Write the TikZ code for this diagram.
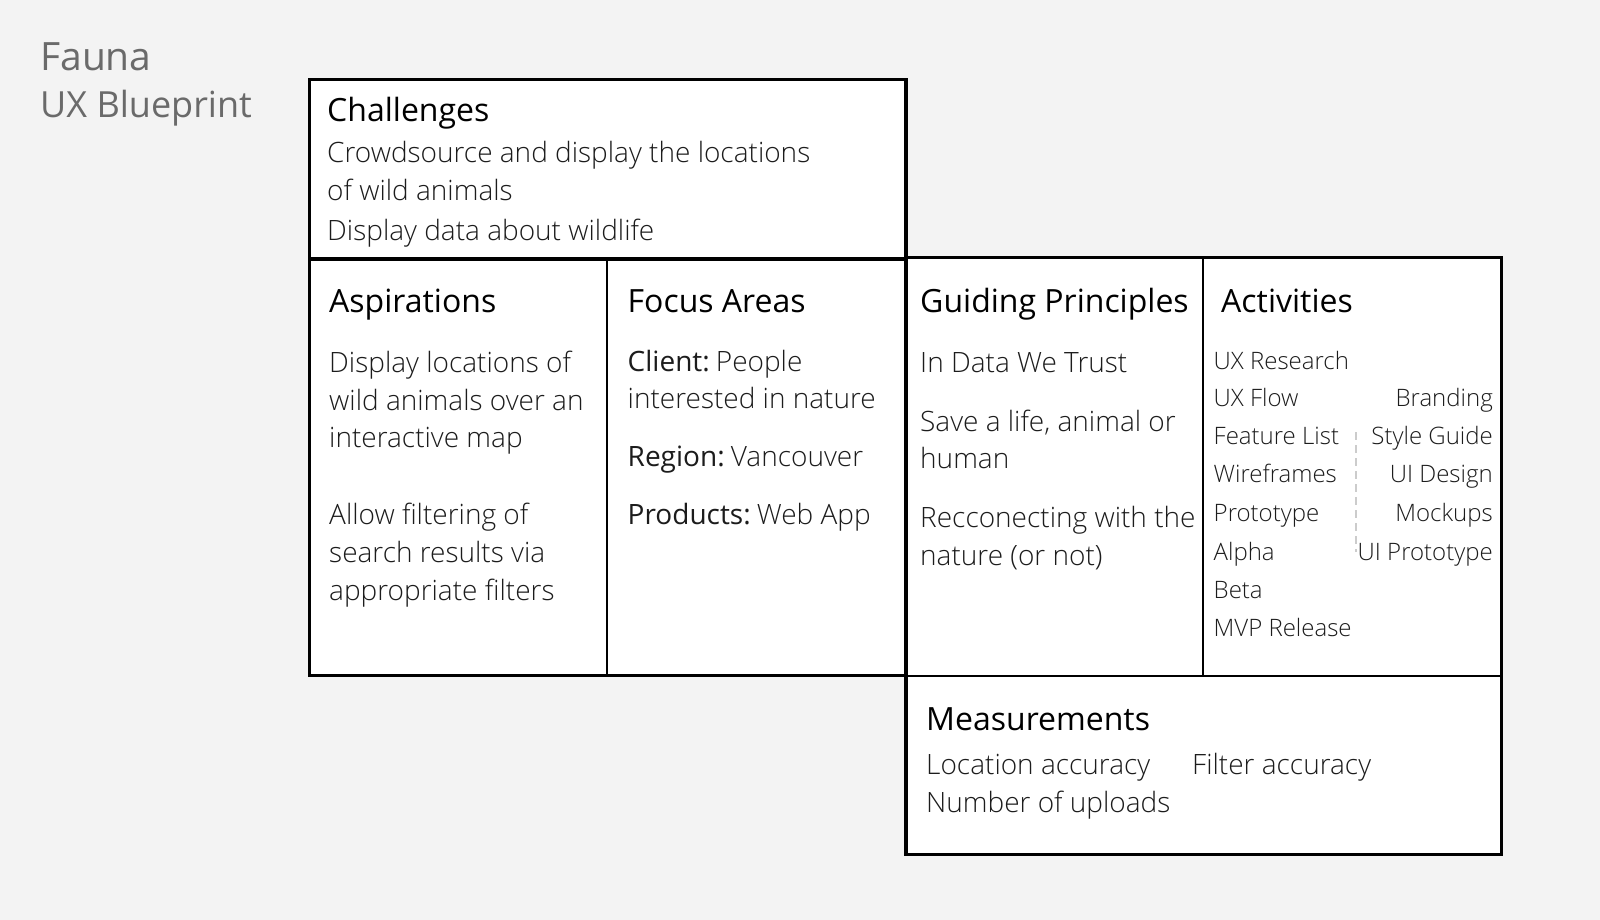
\documentclass[tikz,border=0pt]{standalone}
\usepackage{fontspec}
\setmainfont{Open Sans}
\newfontfamily\lightfont{Open Sans Light}
\definecolor{bg}{HTML}{F3F3F3}
\definecolor{ink}{HTML}{1C1C1C}
\definecolor{titlegray}{HTML}{6A6A6A}
\definecolor{dashgray}{HTML}{CCCCCC}
\begin{document}
\begin{tikzpicture}[x=1pt,y=-1pt,
  frame/.style={draw=black,line width=3.5pt,fill=white},
  rule/.style={draw=black,line width=1.8pt},
  head/.style={anchor=base west,inner sep=0pt,font=\fontsize{32}{38}\selectfont,text=black},
  body/.style={anchor=base west,inner sep=0pt,font=\lightfont\fontsize{28}{38}\selectfont,text=ink},
  item/.style={anchor=base west,inner sep=0pt,font=\lightfont\fontsize{24}{30}\selectfont,text=ink},
  itemr/.style={item,anchor=base east},
  title/.style={anchor=base west,inner sep=0pt,text=titlegray}]

% canvas
\fill[bg] (0,0) rectangle (1600,920);
\useasboundingbox (0,0) rectangle (1600,920);

% title
\node[title,font=\fontsize{39}{44}\selectfont] (fauna) at (40,70.5) {Fauna};
\node[title,font=\fontsize{36}{44}\selectfont] (blueprint) at (40,118) {UX Blueprint};

% left block: aspirations and focus areas
\path[frame] (309.5,259) rectangle (906,675.5);
\draw[rule] (606.7,259) -- (606.7,675.5);

% challenges
\path[frame] (309.5,79.5) rectangle (906,259);

% right block: principles, activities, measurements
\path[frame] (906,257.5) rectangle (1501.5,854.5);
\draw[rule] (1202.6,257.5) -- (1202.6,676);
\draw[rule] (906,676) -- (1501.5,676);

% Challenges
\node[head] (chh) at (327,122) {Challenges};
\node[body] (ch1) at (327,163) {Crowdsource and display the locations};
\node[body] (ch2) at (327,200.5) {of wild animals};
\node[body] (ch3) at (327,240.5) {Display data about wildlife};

% Aspirations
\node[head] (ash) at (329,312.7) {Aspirations};
\node[body] (as1) at (329,372.7) {Display locations of};
\node[body] (as2) at (329,410.3) {wild animals over an};
\node[body] (as3) at (329,447.7) {interactive map};
\node[body] (as4) at (329,524.3) {Allow filtering of};
\node[body] (as5) at (329,562.7) {search results via};
\node[body] (as6) at (329,600.3) {appropriate filters};

% Focus areas
\node[head] (fah) at (627.5,312.7) {Focus Areas};
\node[body] (fa1) at (627.5,371) {{\normalfont Client:}\hspace{0.22em}People};
\node[body] (fa2) at (627.5,408) {interested in nature};
\node[body] (fa3) at (627.5,466) {{\normalfont Region:}\hspace{0.22em}Vancouver};
\node[body] (fa4) at (627.5,524) {{\normalfont Products:}\hspace{0.22em}Web App};

% Guiding principles
\node[head] (gph) at (920,312.7) {Guiding Principles};
\node[body] (gp1) at (920,372.7) {In Data We Trust};
\node[body] (gp2) at (920,431) {Save a life, animal or};
\node[body] (gp3) at (920,468.7) {human};
\node[body] (gp4) at (920,527.7) {Recconecting with the};
\node[body] (gp5) at (920,565.3) {nature (or not)};

% Activities
\node[head] (ach) at (1221,312.7) {Activities};
\node[item] (ac1) at (1213.5,369) {UX Research};
\node[item] (ac2) at (1213.5,406.7) {UX Flow};
\node[item] (ac3) at (1213.5,444.7) {Feature List};
\node[item] (ac4) at (1213.5,482.7) {Wireframes};
\node[item] (ac5) at (1213.5,521.7) {Prototype};
\node[item] (ac6) at (1213.5,560.7) {Alpha};
\node[item] (ac7) at (1213.5,598.7) {Beta};
\node[item] (ac8) at (1213.5,636.7) {MVP Release};
\node[itemr] (ad1) at (1493,406.7) {Branding};
\node[itemr] (ad2) at (1493,444.7) {Style Guide};
\node[itemr] (ad3) at (1493,482.7) {UI Design};
\node[itemr] (ad4) at (1493,521.7) {Mockups};
\node[itemr] (ad5) at (1493,560.7) {UI Prototype};
\coordinate (dtop) at (1356,432);
\coordinate (dbot) at (1356,552);
\draw[dashgray,line width=1.5pt,dash pattern=on 8pt off 5pt] (dtop) -- (dbot);

% Measurements
\node[head] (meh) at (926,730.3) {Measurements};
\node[body] (me1) at (926,774.3) {Location accuracy};
\node[body] (me2) at (1192,774.3) {Filter accuracy};
\node[body] (me3) at (926,812.7) {Number of uploads};
\end{tikzpicture}
\end{document}
